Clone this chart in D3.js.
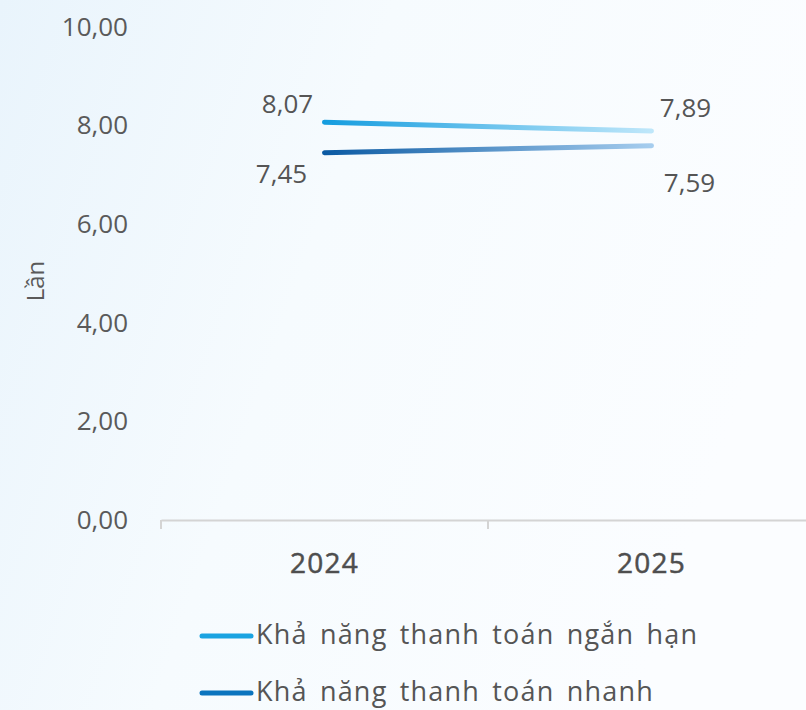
<!DOCTYPE html>
<html>
<head>
<meta charset="utf-8">
<script src="https://cdn.jsdelivr.net/npm/d3@7"></script>
<style>
  body { margin: 0; }
  svg { display: block; font-family: "Open Sans", "Noto Sans", sans-serif; }
</style>
</head>
<body>
<div id="chart"></div>
<script>
var years = ["2024", "2025"];
var shortTerm = [8.07, 7.89];   // Khả năng thanh toán ngắn hạn
var quick = [7.45, 7.59];       // Khả năng thanh toán nhanh
var seriesNames = ["Khả năng thanh toán ngắn hạn", "Khả năng thanh toán nhanh"];
var yTicks = [0, 2, 4, 6, 8, 10];

var width = 806, height = 710;

var svg = d3.select("#chart").append("svg")
    .attr("width", width)
    .attr("height", height);

var defs = svg.append("defs");

// background
var bg = defs.append("linearGradient").attr("id", "bg")
    .attr("x1", "0%").attr("y1", "0%").attr("x2", "100%").attr("y2", "30%");
bg.append("stop").attr("offset", "0%").attr("stop-color", "#e9f4fc");
bg.append("stop").attr("offset", "45%").attr("stop-color", "#f6fbfe");
bg.append("stop").attr("offset", "100%").attr("stop-color", "#fbfdff");
svg.append("rect").attr("width", width).attr("height", height).attr("fill", "url(#bg)");

var x = d3.scaleBand().domain(years).range([161, 815]);
var y = d3.scaleLinear().domain([0, 10]).range([520, 27]);

// line gradients
var g1 = defs.append("linearGradient").attr("id", "g1")
    .attr("gradientUnits", "userSpaceOnUse")
    .attr("x1", x("2024") + x.bandwidth() / 2).attr("x2", x("2025") + x.bandwidth() / 2)
    .attr("y1", 0).attr("y2", 0);
g1.append("stop").attr("offset", "0%").attr("stop-color", "#159ddf");
g1.append("stop").attr("offset", "100%").attr("stop-color", "#bfe7fa");

var g2 = defs.append("linearGradient").attr("id", "g2")
    .attr("gradientUnits", "userSpaceOnUse")
    .attr("x1", x("2024") + x.bandwidth() / 2).attr("x2", x("2025") + x.bandwidth() / 2)
    .attr("y1", 0).attr("y2", 0);
g2.append("stop").attr("offset", "0%").attr("stop-color", "#0b5aa3");
g2.append("stop").attr("offset", "100%").attr("stop-color", "#a6cdee");

// y axis labels
var yAxis = d3.axisLeft(y).tickValues(yTicks).tickSize(0).tickPadding(0)
    .tickFormat(d => d3.format(".2f")(d).replace(".", ","));
var gy = svg.append("g").attr("transform", "translate(128,0)").call(yAxis);
gy.select(".domain").remove();
gy.selectAll("text").attr("font-size", 26).attr("fill", "#5a5a5a")
    .attr("font-family", "Open Sans, sans-serif");

svg.append("text")
    .attr("transform", "translate(44,281) rotate(-90)")
    .attr("text-anchor", "middle")
    .attr("font-size", 24)
    .attr("fill", "#5a5a5a")
    .text("Lần");

// x axis
var xAxis = d3.axisBottom(x).tickSize(0).tickPadding(0);
var gx = svg.append("g").attr("transform", "translate(0,520)").call(xAxis);
gx.select(".domain").attr("stroke", "#d4d4d4").attr("stroke-width", 2);
gx.selectAll("text").attr("font-size", 28).attr("fill", "#4e4e4e")
    .attr("stroke", "#4e4e4e").attr("stroke-width", 0.5)
    .attr("letter-spacing", 1.2).attr("dy", 0).attr("y", 53)
    .attr("font-family", "Open Sans, sans-serif");
// boundary ticks
svg.selectAll(".bt").data(years.concat(["end"])).enter().append("line")
    .attr("x1", (d, i) => i < years.length ? x(d) : x(years[years.length - 1]) + x.bandwidth())
    .attr("x2", (d, i) => i < years.length ? x(d) : x(years[years.length - 1]) + x.bandwidth())
    .attr("y1", 520).attr("y2", 529)
    .attr("stroke", "#d4d4d4").attr("stroke-width", 2);

var cx = d => x(d) + x.bandwidth() / 2;
var line = d3.line().x((d, i) => cx(years[i])).y(d => y(d));

svg.append("path").datum(shortTerm)
    .attr("d", line).attr("fill", "none")
    .attr("stroke", "url(#g1)").attr("stroke-width", 5).attr("stroke-linecap", "round");
svg.append("path").datum(quick)
    .attr("d", line).attr("fill", "none")
    .attr("stroke", "url(#g2)").attr("stroke-width", 5).attr("stroke-linecap", "round");

// data labels
var fmt = d => d3.format(".2f")(d).replace(".", ",");
var labelOffsets = [
  { series: shortTerm, dx: [-37, 34], dy: [-9, -14] },
  { series: quick, dx: [-43, 38], dy: [30, 46] }
];
labelOffsets.forEach(function (s) {
  svg.selectAll(null).data(s.series).enter().append("text")
      .attr("x", (d, i) => cx(years[i]) + s.dx[i])
      .attr("y", (d, i) => y(d) + s.dy[i])
      .attr("text-anchor", "middle")
      .attr("font-size", 26)
      .attr("fill", "#555")
      .text(fmt);
});

// legend
var legendColors = ["#1aa3e1", "#0b74be"];
var lg = svg.selectAll(".lg").data(seriesNames).enter().append("g")
    .attr("transform", (d, i) => "translate(200," + (636 + i * 57) + ")");
lg.append("line").attr("x1", 2).attr("x2", 51).attr("y1", 0).attr("y2", 0)
    .attr("stroke", (d, i) => legendColors[i]).attr("stroke-width", 5)
    .attr("stroke-linecap", "round");
lg.append("text").attr("x", 56).attr("y", 8)
    .attr("font-size", 27).attr("fill", "#555")
    .attr("letter-spacing", 1.2).attr("word-spacing", 4)
    .text(d => d);
</script>
</body>
</html>
